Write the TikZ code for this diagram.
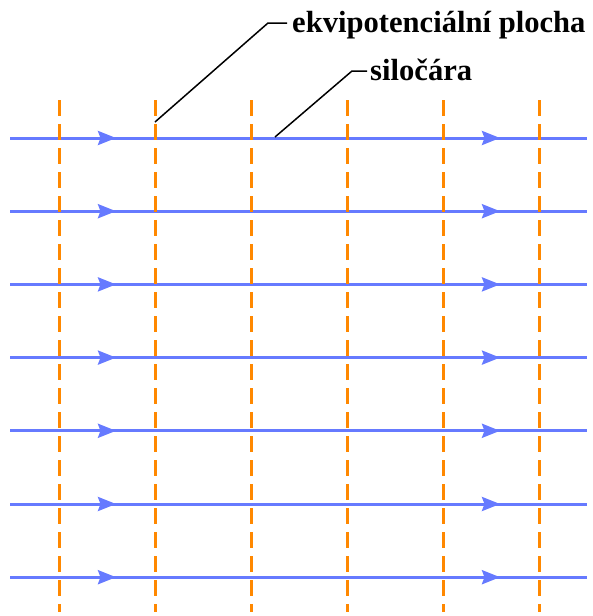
\documentclass[tikz,border=0pt]{standalone}
\usepackage{fontspec}
\setmainfont{Liberation Serif}
\usetikzlibrary{arrows.meta}
\definecolor{field}{RGB}{102,122,255}
\definecolor{equi}{RGB}{255,136,0}
\begin{document}
\begin{tikzpicture}[x=1pt,y=-1pt,
  fieldline/.style={draw=field,line width=3pt},
  fieldtip/.style={draw=field,line width=3pt,-{Stealth[length=18pt,width=14pt,inset=2.5pt]}},
  equiline/.style={draw=equi,line width=3pt,dash pattern=on 16pt off 8pt},
  leader/.style={draw=black,line width=1.5pt},
  lab/.style={font=\bfseries\fontsize{30.6}{36}\selectfont,inner sep=0pt,anchor=base west}]
\useasboundingbox (0,0) rectangle (592,616);
% field lines
\foreach \i in {0,...,6}{
  \coordinate (L\i) at (10,{138+73.2*\i});
  \coordinate (R\i) at (587,{138+73.2*\i});
  \coordinate (P\i) at (116,{138+73.2*\i});
  \coordinate (Q\i) at (500,{138+73.2*\i});
  \path[fieldline] (L\i) -- (R\i);
  \path[fieldtip] (L\i) -- (P\i);
  \path[fieldtip] (L\i) -- (Q\i);
}
% equipotential lines
\foreach \j in {0,...,5}{
  \coordinate (T\j) at ({59+96*\j},100);
  \coordinate (B\j) at ({59+96*\j},612);
  \path[equiline] (T\j) -- (B\j);
}
% labels
\node[lab] (lab1) at (292,32) {ekvipotenciální plocha};
\node[lab] (lab2) at (370,80) {siločára};
\coordinate (a1) at (155,122);
\coordinate (k1) at (268,23);
\coordinate (e1) at (287,23);
\coordinate (a2) at (275,137);
\coordinate (k2) at (352,71);
\coordinate (e2) at (367,71);
\draw[leader] (a1) -- (k1) -- (e1);
\draw[leader] (a2) -- (k2) -- (e2);
\end{tikzpicture}
\end{document}
